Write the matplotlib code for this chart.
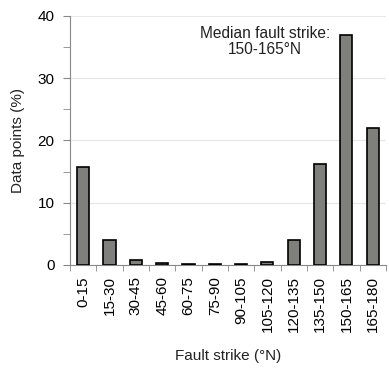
import numpy as np
import matplotlib
matplotlib.use('Agg')
import matplotlib.pyplot as plt
from matplotlib.ticker import MultipleLocator

plt.rcParams['font.family'] = ['Liberation Sans', 'DejaVu Sans']

bins = ['0-15', '15-30', '30-45', '45-60', '60-75', '75-90', '90-105',
        '105-120', '120-135', '135-150', '150-165', '165-180']
percent = [15.8, 4.0, 0.8, 0.25, 0.1, 0.1, 0.1, 0.5, 4.0, 16.2, 36.9, 22.0]

fig = plt.figure(figsize=(3.89, 3.69), dpi=100)
ax = fig.add_axes([0.18, 0.282, 0.812, 0.675])

x = np.arange(len(bins))
ax.bar(x, percent, width=0.46, color='#7f7f7b', edgecolor='black', linewidth=1.2, zorder=3)

ax.set_xlim(-0.5, len(bins) - 0.5)
ax.set_ylim(0, 40)
ax.yaxis.set_major_locator(MultipleLocator(10))
ax.yaxis.set_minor_locator(MultipleLocator(5))
ax.grid(axis='y', which='major', color='#e6e6e6', linewidth=0.8, zorder=0)

ax.set_xticks(x)
ax.set_xticklabels(bins, rotation=90, fontsize=11)
ax.tick_params(axis='x', which='major', length=0, pad=8)
ax.set_xticks(np.arange(len(bins) + 1) - 0.5, minor=True)
ax.tick_params(axis='x', which='minor', length=4, color='#888888')
ax.tick_params(axis='y', which='both', length=5, pad=6, color='#888888', labelsize=11)

for s in ['top', 'right']:
    ax.spines[s].set_visible(False)
for s in ['left', 'bottom']:
    ax.spines[s].set_color('#888888')

ax.set_ylabel('Data points (%)', fontsize=11, color='#222222', labelpad=9)
ax.set_xlabel('Fault strike (°N)', fontsize=11, color='#222222', labelpad=12)

ax.text(6.9, 38.4, 'Median fault strike:\n150-165°N', ha='center', va='top',
        fontsize=11.2, color='#222222', linespacing=1.1)

fig.savefig('out.png', dpi=100)
